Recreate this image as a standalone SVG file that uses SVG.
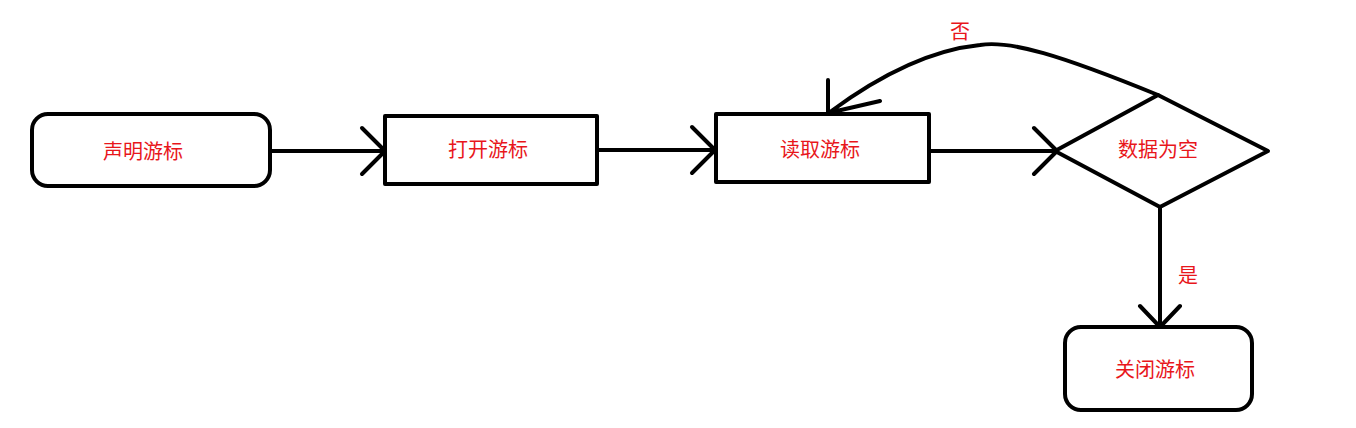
<svg xmlns="http://www.w3.org/2000/svg" width="1356" height="428" viewBox="0 0 1356 428">
<style>
.s{fill:none;stroke:#000;stroke-width:4;stroke-linejoin:round;stroke-linecap:round}
.t{fill:#e8161b;font-family:"Liberation Sans","Noto Sans CJK SC",sans-serif;font-size:20px;text-anchor:middle}
</style>
<rect width="1356" height="428" fill="#fff"/>
<g id="n1"><rect class="s" x="32" y="114" width="238" height="72" rx="16"/><text class="t" x="143" y="159">声明游标</text></g>
<g id="n2"><rect class="s" x="385" y="116" width="212" height="68"/><text class="t" x="488" y="157">打开游标</text></g>
<g id="n3"><rect class="s" x="716" y="114" width="213" height="68"/><text class="t" x="820" y="157">读取游标</text></g>
<g id="n4"><polygon class="s" points="1158,95 1268,151 1160,207 1055,151"/><text class="t" x="1158" y="157">数据为空</text></g>
<g id="n5"><rect class="s" x="1065" y="327" width="187" height="83" rx="16"/><text class="t" x="1155" y="377">关闭游标</text></g>
<g id="edges">
<path class="s" d="M270,151H385M362,128L385,151L362,174"/>
<path class="s" d="M597,150H715M692,127L715,150L692,173"/>
<path class="s" d="M929,151H1057M1034,128L1057,151L1034,174"/>
<path class="s" d="M1160,207V327M1140,306L1160,327L1180,306"/>
<path class="s" d="M1158,95C1060,55 1010,40 980,45C930,50 880,75 830,112M828,80V113L880,101"/>
<text class="t" x="960" y="39">否</text>
<text class="t" x="1188" y="283">是</text>
</g>
</svg>
